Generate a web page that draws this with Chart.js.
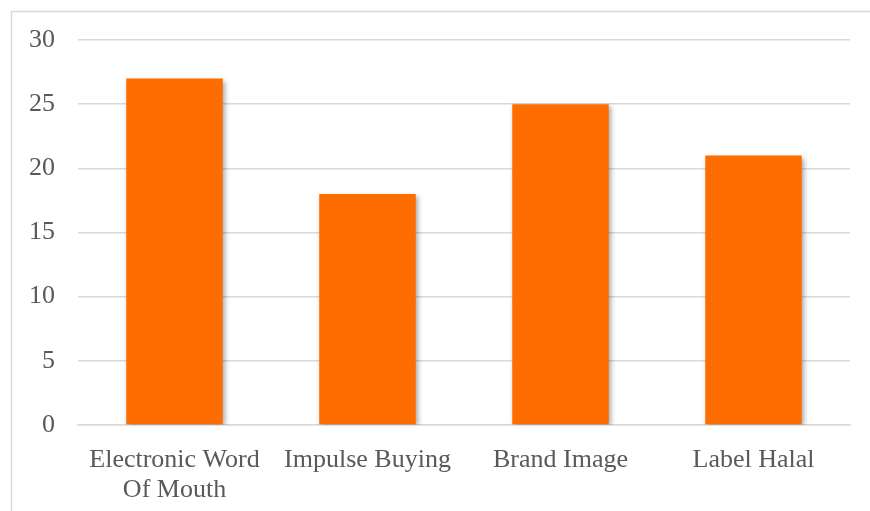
<!DOCTYPE html>
<html>
<head>
<meta charset="utf-8">
<script src="https://cdn.jsdelivr.net/npm/chart.js@4.4.1/dist/chart.umd.min.js"></script>
<style>
  body { margin: 0; background: #ffffff; }
  canvas { display: block; }
</style>
</head>
<body>
<canvas id="myChart" width="870" height="511"></canvas>
<script>
// chart data
let categories = [['Electronic Word', 'Of Mouth'], 'Impulse Buying', 'Brand Image', 'Label Halal'];
let values = [27, 18, 25, 21];
let yTicks = [0, 5, 10, 15, 20, 25, 30];

let textColor = '#595959';
let gridColor = '#d9d9d9';
let fontFamily = "'Liberation Serif', 'Times New Roman', serif";

Chart.defaults.font.family = fontFamily;

// light frame round the whole chart (only top and left edges fall inside the window)
let framePlugin = {
    id: 'frame',
    beforeDraw(chart) {
        let c = chart.ctx;
        c.save();
        c.fillStyle = '#ffffff';
        c.fillRect(0, 0, chart.width, chart.height);
        c.strokeStyle = gridColor;
        c.lineWidth = 1.5;
        c.beginPath();
        c.moveTo(11.5, chart.height);
        c.lineTo(11.5, 11.5);
        c.lineTo(chart.width, 11.5);
        c.stroke();
        c.restore();
    }
};

// soft shadow behind the bars
let shadowPlugin = {
    id: 'barShadow',
    beforeDatasetsDraw(chart) {
        let c = chart.ctx;
        c.save();
        c.shadowColor = 'rgba(0, 0, 0, 0.35)';
        c.shadowBlur = 5;
        c.shadowOffsetX = 2;
        c.shadowOffsetY = 2;
    },
    afterDatasetsDraw(chart) {
        chart.ctx.restore();
    }
};

var ctx = document.getElementById('myChart').getContext('2d');

var myChart = new Chart(ctx, {
    type: 'bar',
    data: {
        labels: categories,
        datasets: [{
            data: values,
            backgroundColor: '#ff6d00',
            borderWidth: 0,
            categoryPercentage: 1,
            barPercentage: 0.5
        }]
    },
    options: {
        responsive: false,
        animation: false,
        layout: {
            padding: { top: 40, right: 20, left: 0, bottom: 0 }
        },
        plugins: {
            legend: { display: false },
            tooltip: { enabled: false }
        },
        scales: {
            x: {
                grid: { display: false },
                border: { display: true, color: gridColor, width: 1.5 },
                ticks: {
                    color: textColor,
                    font: { family: fontFamily, size: 26, lineHeight: 1.12 },
                    padding: 13,
                    maxRotation: 0,
                    autoSkip: false
                },
                afterFit(scale) { scale.height = 86; }
            },
            y: {
                min: 0,
                max: 30,
                afterBuildTicks(scale) {
                    scale.ticks = yTicks.map(v => ({ value: v }));
                },
                grid: { color: gridColor, lineWidth: 1.5, drawTicks: false },
                border: { display: false },
                ticks: {
                    color: textColor,
                    font: { family: fontFamily, size: 26 },
                    padding: 23
                },
                afterFit(scale) { scale.width = 78; }
            }
        }
    },
    plugins: [framePlugin, shadowPlugin]
});
</script>
</body>
</html>
